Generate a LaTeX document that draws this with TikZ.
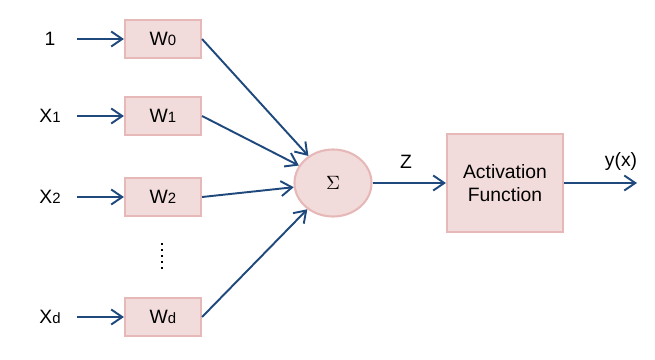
\documentclass[tikz,border=0pt]{standalone}
\usepackage{fontspec}
\setmainfont{Liberation Sans}
\usepackage{xcolor}
\usetikzlibrary{arrows.meta,positioning,shapes.geometric}
\definecolor{boxfill}{RGB}{242,220,219}
\definecolor{boxline}{RGB}{230,184,183}
\definecolor{arrblue}{RGB}{31,73,125}
\newcommand{\smsub}[1]{{\fontsize{8.5}{9}\selectfont #1}}
\tikzset{
  wbox/.style={draw=boxline, fill=boxfill, line width=1.2pt, minimum width=1.52cm, minimum height=0.76cm, inner sep=0pt},
  sumnode/.style={ellipse, draw=boxline, fill=boxfill, line width=1.2pt, minimum width=1.54cm, minimum height=1.34cm, inner sep=0pt},
  actbox/.style={draw=boxline, fill=boxfill, line width=1.2pt, minimum width=2.32cm, minimum height=1.96cm, align=center, inner sep=0pt},
  arr/.style={draw=arrblue, line width=1.1pt, -{Straight Barb[length=2.2mm,width=3mm]}},
}

\begin{document}
\begin{tikzpicture}[every node/.style={font=\fontsize{11}{13}\selectfont}]
\useasboundingbox (0,0) rectangle (13.1,7.18);
% inputs
\node (x0) at (1.0,6.40) {1};
\node (x1) at (1.0,4.86) {X\smsub{1}};
\node (x2) at (1.0,3.24) {X\smsub{2}};
\node (xd) at (1.0,0.84) {X\smsub{d}};
\coordinate (s0) at (1.54,6.40);
\coordinate (s1) at (1.54,4.86);
\coordinate (s2) at (1.54,3.24);
\coordinate (sd) at (1.54,0.84);
% weights
\node[wbox] (w0) at (3.26,6.40) {W\smsub{0}};
\node[wbox] (w1) at (3.26,4.86) {W\smsub{1}};
\node[wbox] (w2) at (3.26,3.24) {W\smsub{2}};
\node[wbox] (wd) at (3.26,0.84) {W\smsub{d}};
\coordinate (dtop) at (3.24,2.32);
\coordinate (dbot) at (3.24,1.74);
\draw[line width=1.4pt, dotted] (dtop) -- (dbot);
% sum and activation
\node[sumnode] (sum) at (6.66,3.52) {$\Sigma$};
\node[actbox] (act) at (10.10,3.52) {Activation\\Function};
\coordinate (out) at (12.74,3.52);
\node (z) at (8.12,3.94) {Z};
\node (y) at (12.42,3.94) {y(x)};
% connectors
\draw[arr] (s0) -- (w0);
\draw[arr] (s1) -- (w1);
\draw[arr] (s2) -- (w2);
\draw[arr] (sd) -- (wd);
\draw[arr] (w0.east) -- (sum);
\draw[arr] (w1.east) -- (sum);
\draw[arr] (w2.east) -- (sum);
\draw[arr] (wd.east) -- (sum);
\draw[arr] (sum) -- (act);
\draw[arr] (act) -- (out);
\end{tikzpicture}
\end{document}
